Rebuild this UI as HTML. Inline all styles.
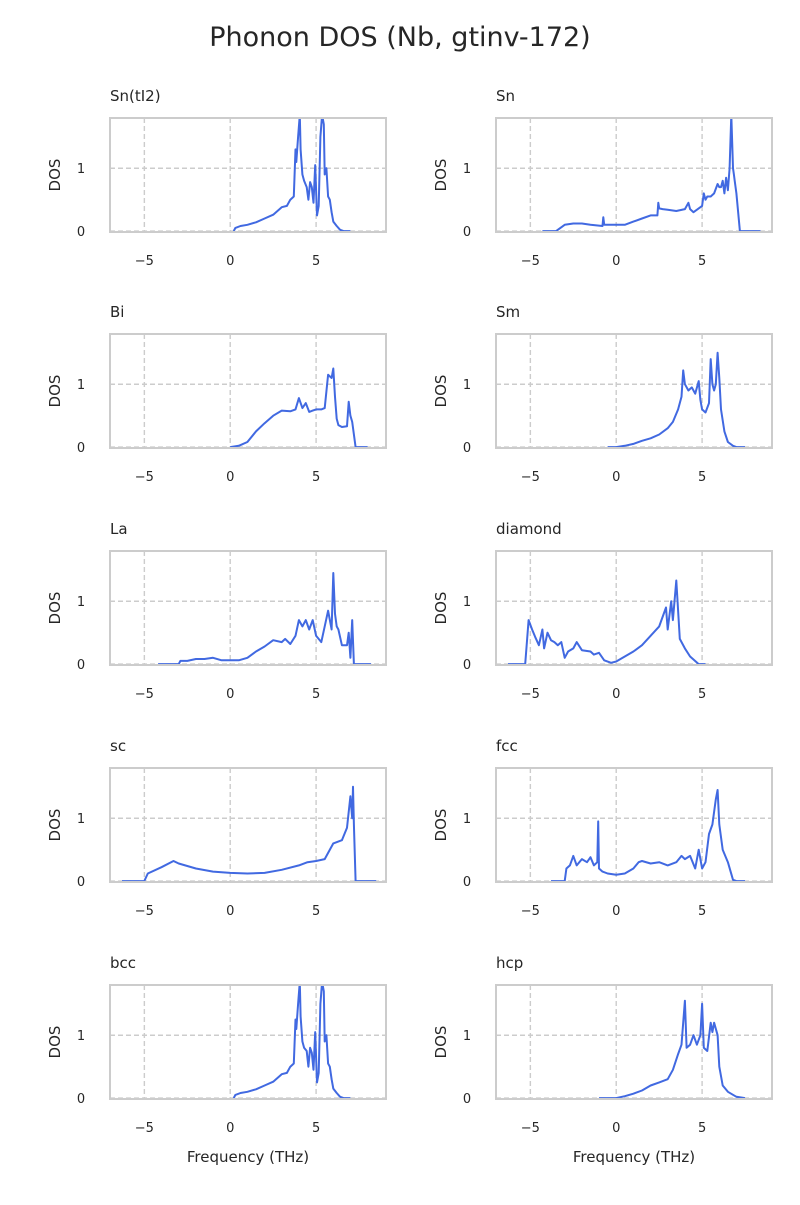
<!DOCTYPE html>
<html><head><meta charset="utf-8"><style>body{margin:0;background:#fff}svg text{font-family:"DejaVu Sans","Liberation Sans",sans-serif;fill:#262626}</style></head>
<body>
<svg id="fig" width="800" height="1200" viewBox="0 0 800 1200" xmlns="http://www.w3.org/2000/svg">
<text x="400" y="46" text-anchor="middle" font-size="27">Phonon DOS (Nb, gtinv-172)</text>
</svg>
<script>
const panelNames = ["Sn(tI2)","Sn","Bi","Sm","La","diamond","sc","fcc","bcc","hcp"];
const xTicks = [-5,0,5];
const yTicks = [0,1];
const xSn_tI2 = [0.2,0.3,0.6,1,1.5,2,2.5,3,3.3,3.5,3.7,3.8,3.85,3.95,4.05,4.1,4.2,4.3,4.45,4.55,4.65,4.75,4.85,4.95,5.05,5.15,5.25,5.35,5.45,5.5,5.6,5.7,5.8,5.9,6,6.2,6.4,6.6,6.8,7];
const ySn_tI2 = [0,0.05,0.08,0.1,0.14,0.2,0.26,0.38,0.4,0.5,0.55,1.3,1.1,1.5,1.85,1.3,0.9,0.8,0.7,0.5,0.78,0.7,0.45,1.05,0.25,0.4,1.5,1.85,1.7,0.9,1.0,0.55,0.5,0.3,0.15,0.08,0.02,0,0,0];
const xSn = [-4.3,-3.5,-3,-2.5,-2,-1.5,-0.8,-0.75,-0.7,-0.5,0,0.5,1,1.5,2,2.4,2.45,2.5,2.7,3,3.5,4,4.2,4.3,4.5,5,5.1,5.2,5.3,5.5,5.7,5.9,6,6.1,6.2,6.3,6.4,6.5,6.6,6.7,6.8,6.85,6.9,7,7.2,7.4,8.4];
const ySn = [0,0,0.1,0.12,0.12,0.1,0.08,0.22,0.1,0.1,0.1,0.1,0.15,0.2,0.25,0.25,0.45,0.36,0.35,0.34,0.32,0.35,0.45,0.35,0.3,0.4,0.6,0.5,0.55,0.55,0.6,0.75,0.7,0.7,0.8,0.6,0.85,0.65,1.0,1.85,1.0,0.9,0.8,0.6,0,0,0];
const xBi = [0,0.5,1,1.5,2,2.5,3,3.5,3.8,4,4.2,4.4,4.6,4.8,5,5.3,5.5,5.7,5.9,6,6.1,6.2,6.3,6.5,6.8,6.9,7,7.1,7.2,7.3,7.5,8];
const yBi = [0,0.02,0.08,0.25,0.38,0.5,0.58,0.57,0.6,0.78,0.62,0.7,0.56,0.58,0.6,0.6,0.62,1.15,1.1,1.25,0.8,0.45,0.35,0.32,0.33,0.72,0.5,0.4,0.2,0,0,0];
const xSm = [-0.5,0,0.5,1,1.5,2,2.5,3,3.3,3.6,3.8,3.9,4,4.2,4.4,4.6,4.8,4.9,5,5.2,5.4,5.5,5.6,5.7,5.8,5.9,6,6.1,6.3,6.5,6.8,7,7.5];
const ySm = [0,0,0.02,0.05,0.1,0.14,0.2,0.3,0.4,0.6,0.8,1.22,1.0,0.9,0.95,0.85,1.05,0.75,0.6,0.55,0.7,1.4,1.0,0.9,1.0,1.5,1.1,0.6,0.25,0.08,0.02,0,0];
const xLa = [-4.2,-3,-2.9,-2.5,-2,-1.5,-1,-0.5,0,0.5,1,1.5,2,2.5,3,3.2,3.5,3.8,4,4.2,4.4,4.6,4.8,5,5.3,5.5,5.7,5.9,6,6.1,6.2,6.3,6.5,6.8,6.9,7,7.1,7.2,7.3,7.6,8.2];
const yLa = [0,0,0.05,0.05,0.08,0.08,0.1,0.06,0.06,0.06,0.1,0.2,0.28,0.38,0.35,0.4,0.32,0.45,0.7,0.6,0.7,0.55,0.7,0.45,0.35,0.6,0.85,0.55,1.45,0.8,0.6,0.55,0.3,0.3,0.5,0.1,0.7,0,0,0,0];
const xDiamond = [-6.3,-5.3,-5.1,-4.9,-4.7,-4.5,-4.3,-4.2,-4,-3.8,-3.6,-3.4,-3.2,-3,-2.8,-2.5,-2.3,-2,-1.5,-1.3,-1,-0.7,-0.3,0,0.5,1,1.5,2,2.5,2.9,3.0,3.2,3.3,3.5,3.7,4,4.3,4.8,5.2];
const yDiamond = [0,0,0.7,0.55,0.42,0.3,0.55,0.25,0.5,0.38,0.35,0.3,0.35,0.1,0.2,0.25,0.35,0.22,0.2,0.15,0.18,0.06,0.02,0.04,0.12,0.2,0.3,0.45,0.6,0.9,0.55,1.0,0.7,1.33,0.4,0.25,0.12,0,0];
const xSc = [-6.3,-5,-4.8,-4,-3.3,-3,-2,-1,0,1,2,3,4,4.5,5,5.5,6,6.5,6.8,7,7.1,7.15,7.2,7.3,8.5];
const ySc = [0,0,0.12,0.22,0.32,0.28,0.2,0.15,0.13,0.12,0.13,0.18,0.25,0.3,0.32,0.35,0.6,0.65,0.85,1.35,1.0,1.5,0.9,0,0];
const xFcc = [-3.8,-3,-2.9,-2.7,-2.5,-2.3,-2,-1.7,-1.5,-1.3,-1.1,-1.05,-1,-0.8,-0.5,0,0.5,1,1.3,1.5,2,2.5,3,3.5,3.8,4,4.3,4.6,4.8,5,5.2,5.4,5.6,5.8,5.9,6,6.2,6.5,6.8,7,7.5];
const yFcc = [0,0,0.2,0.25,0.4,0.25,0.35,0.3,0.38,0.25,0.3,0.95,0.2,0.15,0.12,0.1,0.12,0.2,0.3,0.32,0.28,0.3,0.25,0.3,0.4,0.35,0.4,0.2,0.5,0.2,0.3,0.75,0.9,1.3,1.45,0.9,0.5,0.3,0.02,0,0];
const xBcc = [0.2,0.3,0.6,1,1.5,2,2.5,3,3.3,3.5,3.7,3.8,3.85,3.95,4.05,4.1,4.2,4.3,4.45,4.55,4.65,4.75,4.85,4.95,5.05,5.15,5.25,5.35,5.45,5.5,5.6,5.7,5.8,5.9,6,6.2,6.4,6.6,6.8,7];
const yBcc = [0,0.05,0.08,0.1,0.14,0.2,0.26,0.38,0.4,0.5,0.55,1.25,1.1,1.5,1.85,1.3,0.9,0.8,0.75,0.5,0.8,0.72,0.45,1.05,0.25,0.4,1.5,1.85,1.7,0.9,1.0,0.55,0.5,0.3,0.15,0.08,0.02,0,0,0];
const xHcp = [-1,0,0.5,1,1.5,2,2.5,3,3.3,3.6,3.8,4.0,4.1,4.3,4.5,4.7,4.9,5.0,5.1,5.3,5.5,5.6,5.7,5.9,6,6.2,6.5,7,7.5];
const yHcp = [0,0,0.03,0.07,0.12,0.2,0.25,0.3,0.45,0.7,0.85,1.55,0.8,0.85,1.0,0.85,1.0,1.5,0.8,0.75,1.2,1.05,1.2,1.0,0.5,0.2,0.1,0.02,0];
const seriesX = [xSn_tI2,xSn,xBi,xSm,xLa,xDiamond,xSc,xFcc,xBcc,xHcp];
const seriesY = [ySn_tI2,ySn,yBi,ySm,yLa,yDiamond,ySc,yFcc,yBcc,yHcp];

const NS="http://www.w3.org/2000/svg";
const svg=document.getElementById('fig');
const XMIN=-7, XMAX=9.07, YMIN=-0.015, YMAX=1.8;
const PW=276, PH=114;
const lefts=[110,496], tops=[118,334,551,768,985];
function mk(tag,attrs,parent){const e=document.createElementNS(NS,tag);for(const k in attrs)e.setAttribute(k,attrs[k]);(parent||svg).appendChild(e);return e;}
panelNames.forEach((name,i)=>{
  const L=lefts[i%2], T=tops[Math.floor(i/2)];
  const sx=v=>L+(v-XMIN)/(XMAX-XMIN)*PW;
  const sy=v=>T+PH-(v-YMIN)/(YMAX-YMIN)*PH;
  const g=mk('g',{});
  
  
  const cp=mk('clipPath',{id:'c'+i},g); mk('rect',{x:L,y:T,width:PW,height:PH},cp);
  xTicks.forEach(t=>{
    const gl=mk('line',{x1:sx(t),x2:sx(t),y1:T,y2:T+PH,stroke:'#cccccc','stroke-width':1.4,'stroke-dasharray':'5,3'},g);
    
    
    const tl=mk('text',{x:sx(t),y:T+PH+33,'text-anchor':'middle','font-size':13},g);
    tl.textContent=(t<0?'\u2212'+(-t):''+t);
    
    
  });
  yTicks.forEach(t=>{
    const gl=mk('line',{x1:L,x2:L+PW,y1:sy(t),y2:sy(t),stroke:'#cccccc','stroke-width':1.4,'stroke-dasharray':'5,3'},g);
    
    
    const tl=mk('text',{x:L-29,y:sy(t)+5,'text-anchor':'middle','font-size':13},g);
    tl.textContent=''+t;
    
    
  });
  const d=seriesX[i].map((x,j)=>(j?'L':'M')+sx(x).toFixed(1)+','+sy(seriesY[i][j]).toFixed(1)).join('');
  const p=mk('path',{d:d,fill:'none',stroke:'#4169e1','stroke-width':2,'stroke-linejoin':'round','clip-path':'url(#c'+i+')'},g);
  
  
  const fr=mk('rect',{x:L,y:T,width:PW,height:PH,fill:'none',stroke:'#cccccc','stroke-width':2},g);
  
  
  const ti=mk('text',{x:L,y:T-17,'font-size':15},g);
  ti.textContent=name;
  
  
  const yl=mk('text',{x:0,y:0,'text-anchor':'middle','font-size':15,transform:'translate('+(L-50)+','+(T+PH/2)+') rotate(-90)'},g);
  yl.textContent='DOS';
  
  
  if(i>=8){
    const xl=mk('text',{x:L+PW/2,y:T+PH+63,'text-anchor':'middle','font-size':15},g);
    xl.textContent='Frequency (THz)';
    
    
  }
});
</script>
</body></html>
